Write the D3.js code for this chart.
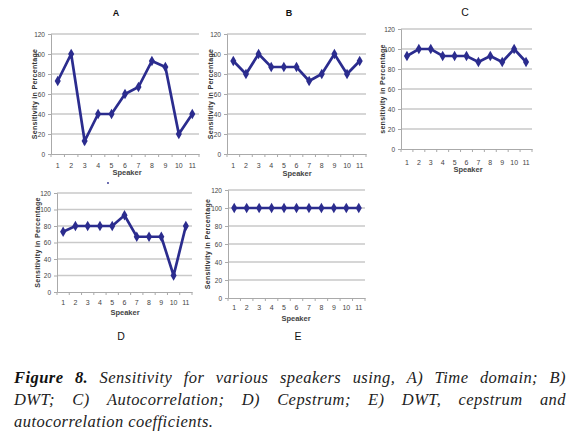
<!DOCTYPE html>
<html><head><meta charset="utf-8">
<script src="https://cdn.jsdelivr.net/npm/d3@7"></script>
<style>body{margin:0;background:#fff}svg{display:block}</style>
</head><body>
<svg id="chart" width="578" height="439"></svg>
<script>
const speakers = ["1","2","3","4","5","6","7","8","9","10","11"];
const yTicks = [0, 20, 40, 60, 80, 100, 120];
const timeDomain = [73, 100, 13, 40, 40, 60, 67, 93, 87, 20, 40];
const dwt = [93, 80, 100, 87, 87, 87, 73, 80, 100, 80, 93];
const autocorrelation = [93, 100, 100, 93, 93, 93, 87, 93, 87, 100, 87];
const cepstrum = [73, 80, 80, 80, 80, 93, 67, 67, 67, 20, 80];
const combined = [100, 100, 100, 100, 100, 100, 100, 100, 100, 100, 100];
const panelTitles = ["A", "B", "C", "D", "E"];
const yLabel = "Sensitivity in Percentage";
const yLabelC = "sensitivity in Percentage";
const xLabel = "Speaker";
const captionLines = [
  "Figure 8. Sensitivity for various speakers using, A) Time domain; B)",
  "DWT; C) Autocorrelation; D) Cepstrum; E) DWT, cepstrum and",
  "autocorrelation coefficients."
];

const svg = d3.select("#chart");
const lineColor = "#2b2c8e";
const gridColor = "#c9c9c9";
const narrow = "'Liberation Sans Narrow','Liberation Sans',Arial,sans-serif";

const panels = [
  {values: timeDomain, title: panelTitles[0], titleBold: true, tx: 116, ty: 16, left: 51, right: 199, top: 34, bottom: 154, tickY: 168, spX: 127, spY: 175, ylx: 35, ylab: yLabel},
  {values: dwt, title: panelTitles[1], titleBold: true, tx: 289, ty: 16, left: 227, right: 366, top: 34, bottom: 154, tickY: 168, spX: 297, spY: 176, ylx: 211, ylab: yLabel},
  {values: autocorrelation, title: panelTitles[2], titleBold: false, tx: 465, ty: 16, left: 401, right: 532, top: 29, bottom: 149, tickY: 165, spX: 468, spY: 172, ylx: 383, ylab: yLabelC},
  {values: cepstrum, title: panelTitles[3], titleBold: false, tx: 121, ty: 340, left: 57, right: 192, top: 193, bottom: 292, tickY: 305, spX: 125, spY: 315, ylx: 38, ylab: yLabel},
  {values: combined, title: panelTitles[4], titleBold: false, tx: 298, ty: 340, left: 228, right: 365, top: 190, bottom: 298, tickY: 310, spX: 296, spY: 321, ylx: 208, ylab: yLabel}
];

panels.forEach(p => {
  const g = svg.append("g");
  const x = d3.scaleBand().domain(speakers).range([p.left, p.right]);
  const y = d3.scaleLinear().domain([0, 120]).range([p.bottom, p.top]);
  g.selectAll(".grid").data(yTicks.filter(t => t > 0)).join("line")
    .attr("x1", p.left).attr("x2", p.right)
    .attr("y1", d => y(d)).attr("y2", d => y(d))
    .attr("stroke", gridColor).attr("stroke-width", 1.3);
  const ya = g.append("g").attr("transform", `translate(${p.left},0)`)
    .call(d3.axisLeft(y).tickValues(yTicks).tickSize(3).tickPadding(3));
  ya.select(".domain").attr("stroke", "#aaa");
  ya.selectAll(".tick line").attr("stroke", "#aaa");
  ya.selectAll("text").attr("font-family", narrow).attr("font-size", 6.5).attr("fill", "#444");
  const xa = g.append("g").attr("transform", `translate(0,${p.bottom})`)
    .call(d3.axisBottom(x).tickSize(0).tickPadding(0));
  xa.select(".domain").attr("stroke", "#aaa");
  xa.selectAll("text").attr("font-family", narrow).attr("font-size", 7).attr("fill", "#444")
    .attr("dy", 0).attr("y", p.tickY - p.bottom);
  const bounds = speakers.map(s => x(s)).concat([p.right]);
  g.selectAll(".bt").data(bounds).join("line")
    .attr("x1", d => d).attr("x2", d => d)
    .attr("y1", p.bottom).attr("y2", p.bottom + 3)
    .attr("stroke", "#aaa");
  const cx = d => x(d) + x.bandwidth() / 2;
  const line = d3.line().x((d, i) => cx(speakers[i])).y(d => y(d));
  g.append("path").datum(p.values).attr("d", line)
    .attr("fill", "none").attr("stroke", lineColor).attr("stroke-width", 2.7)
    .attr("stroke-linejoin", "miter");
  g.selectAll(".mk").data(p.values).join("path")
    .attr("d", d3.symbol(d3.symbolDiamond, 32))
    .attr("transform", (d, i) => `translate(${cx(speakers[i])},${y(d)})`)
    .attr("fill", lineColor);
  g.append("text").attr("transform", `translate(${p.ylx},${(p.top + p.bottom) / 2}) rotate(-90)`)
    .attr("text-anchor", "middle").attr("dy", "0.35em")
    .attr("font-family", "'Liberation Sans',Arial,sans-serif").attr("font-weight", "bold")
    .attr("font-size", 7).attr("letter-spacing", 0.3).attr("fill", "#333").text(p.ylab);
  g.append("text").attr("x", p.spX).attr("y", p.spY).attr("text-anchor", "middle")
    .attr("font-family", narrow).attr("font-weight", "bold")
    .attr("font-size", 7.5).attr("fill", "#444").text(xLabel);
  g.append("text").attr("x", p.tx).attr("y", p.ty).attr("text-anchor", "middle")
    .attr("font-family", "'Liberation Sans',Arial,sans-serif")
    .attr("font-weight", p.titleBold ? "bold" : "normal")
    .attr("font-size", p.titleBold ? 9 : 10.5).attr("fill", "#111").text(p.title);
});

svg.append("circle").attr("cx", 108).attr("cy", 183).attr("r", 0.9).attr("fill", lineColor);

// caption, justified with fixed line breaks
const capFont = "'Liberation Serif','Times New Roman',serif";
const capSize = 16.5;
const capSpacing = 0.45;
const capLeft = 14, capRight = 566;
const baselines = [383, 405, 427];
const cap = svg.append("g");
const measure = cap.append("text").attr("font-family", capFont).attr("font-size", capSize)
  .attr("font-style", "italic").attr("letter-spacing", capSpacing);
function width(w, bold) {
  measure.attr("font-weight", bold ? "bold" : "normal").text(w);
  return measure.node().getComputedTextLength();
}
measure.text("a b");
const wab = measure.node().getComputedTextLength();
const spaceW = wab - width("ab", false);
const boldCount = 2;
captionLines.forEach((lineText, li) => {
  const ws = lineText.split(" ").map((w, i) => {
    const bold = li === 0 && i < boldCount;
    return {w, bold, width: width(w, bold)};
  });
  const total = d3.sum(ws, o => o.width);
  const last = li === captionLines.length - 1;
  const gap = last ? spaceW : (capRight - capLeft - total) / (ws.length - 1);
  let xx = capLeft;
  ws.forEach(o => {
    cap.append("text").attr("x", xx).attr("y", baselines[li])
      .attr("font-family", capFont).attr("font-size", capSize).attr("font-style", "italic")
      .attr("letter-spacing", capSpacing)
      .attr("font-weight", o.bold ? "bold" : "normal").attr("fill", o.bold ? "#111" : "#222")
      .text(o.w);
    xx += o.width + gap;
  });
});
measure.remove();
</script>
</body></html>
